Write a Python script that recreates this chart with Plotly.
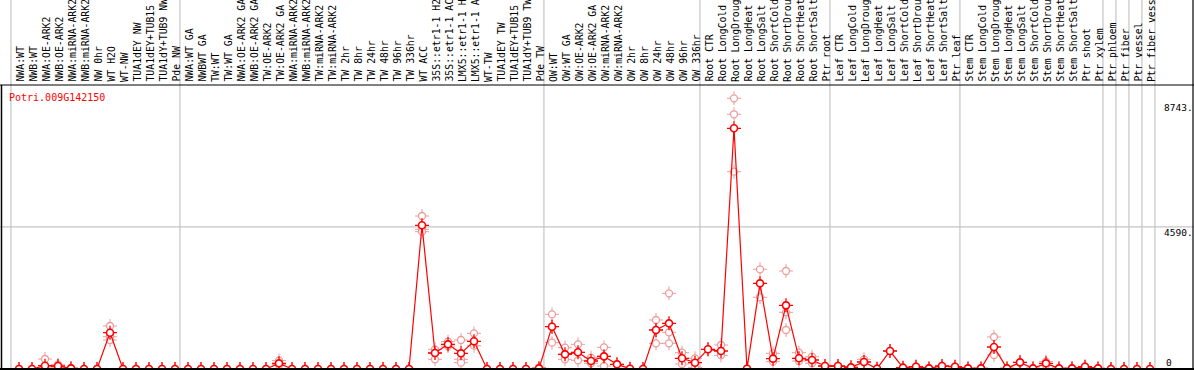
import plotly.graph_objects as go

labels = [
    "NWA:WT", "NWB:WT", "NWA:OE-ARK2", "NWB:OE-ARK2", "NWA:miRNA-ARK2", "NWB:miRNA-ARK2",
    "NW 0hr", "WT H2O", "WT-NW", "TUA1dEY NW", "TUA1dEY+TUB15", "TUA1dY+TUB9 NW", "Pde NW",
    "NWA:WT GA", "NWBWT GA", "TW:WT", "TW:WT GA", "NWA:OE-ARK2 GA", "NWB:OE-ARK2 GA",
    "TW:OE-ARK2", "TW:OE-ARK2 GA", "NWA:miRNA-ARK2", "NWB:miRNA-ARK2", "TW:miRNA-ARK2",
    "TW:miRNA-ARK2", "TW 2hr", "TW 8hr", "TW 24hr", "TW 48hr", "TW 96hr", "TW 336hr",
    "WT ACC", "35S::etr1-1 H2O", "35S::etr1-1 ACC", "LMX5::etr1-1 H2O", "LMX5::etr1-1 ACC",
    "WT-TW", "TUA1dEY TW", "TUA1dEY+TUB15", "TUA1dY+TUB9 TW", "Pde TW",
    "OW:WT", "OW:WT GA", "OW:OE-ARK2", "OW:OE-ARK2 GA", "OW:miRNA-ARK2", "OW:miRNA-ARK2",
    "OW 2hr", "OW 8hr", "OW 24hr", "OW 48hr", "OW 96hr", "OW 336hr",
    "Root CTR", "Root LongCold", "Root LongDrought", "Root LongHeat", "Root LongSalt",
    "Root ShortCold", "Root ShortDrought", "Root ShortHeat", "Root ShortSalt", "Ptr root",
    "Leaf CTR", "Leaf LongCold", "Leaf LongDrought", "Leaf LongHeat", "Leaf LongSalt",
    "Leaf ShortCold", "Leaf ShortDrought", "Leaf ShortHeat", "Leaf ShortSalt", "Ptr leaf",
    "Stem CTR", "Stem LongCold", "Stem LongDrought", "Stem LongHeat", "Stem LongSalt",
    "Stem ShortCold", "Stem ShortDrought", "Stem ShortHeat", "Stem ShortSalt", "Ptr shoot",
    "Ptr xylem", "Ptr phloem", "Ptr fiber", "Ptr vessel", "Ptr fiber vessel",
]

means = [
    0, 0, 107, 97, 20, 0, 0, 1173, 0, 0, 0, 0, 0,
    0, 0, 0, 0, 0, 0, 0, 183, 0, 0, 0, 0, 0, 0, 0, 0, 0, 0,
    4641, 517, 797, 506, 894, 0, 0, 0, 0, 20,
    1367, 474, 539, 258, 409, 151, 10, 0, 1260, 1475, 345, 204,
    636, 581, 7774, 10, 2767, 334, 2056, 345, 291, 97,
    97, 54, 226, 10, 581, 43, 75, 20, 97, 75,
    20, 20, 711, 20, 215, 20, 183, 20, 20, 75, 20,
    0, 0, 0, 0,
]

reps = [
    [0], [0], [323, 30, 0], [140, 80, 60], [30], [0], [0], [1389, 1043, 937], [0], [0], [0], [0], [0],
    [0], [0], [0], [0], [0], [0], [0], [270, 150, 130], [0], [0], [0], [0], [0], [0], [0], [0], [0], [0],
    [4942, 4512, 4435], [636, 313, 517], [883, 797, 740], [937, 313, 204], [1152, 754, 894],
    [0], [0], [0], [0], [40],
    [1766, 851, 1367], [689, 313, 474], [797, 280, 539], [366, 183, 258], [700, 97, 409],
    [151], [10], [0], [1583, 829, 1260], [2444, 1185, 829], [527, 161], [345, 54],
    [636], [775, 441], [8743, 8227, 6374], [10], [3220, 2316], [506, 237],
    [3165, 1830, 1260], [527, 258], [398, 183], [97],
    [97], [54], [313, 226], [10], [581], [43], [75], [20], [97], [75],
    [20], [20], [1034, 452], [20], [215], [20], [240, 120], [20], [20], [75], [20],
    [0], [0], [0], [0],
]

group_starts = [0, 13, 41, 53, 63, 73, 84, 85, 86, 87, 88]
gene = "Potri.009G142150"
ytick_vals = [8743, 4590, 0]
ytick_text = ["8743.", "4590.", "0"]

W, H = 1194, 370
X0, DX = 19, 13
ZERO_PX, PX_PER = 369, 32.3
HEADER_PX = 85
FONT = "DejaVu Sans Mono"
REP_COLOR = "#ec9c9c"
RED = "#ff0000"

xs = list(range(len(labels)))
rx, ry = [], []
for i, r in enumerate(reps):
    for v in r:
        rx.append(i)
        ry.append(v)

fig = go.Figure()
# replicates
fig.add_trace(go.Scatter(x=rx, y=ry, mode="markers", hoverinfo="skip",
                         marker=dict(symbol="cross-thin-open", size=10, color=REP_COLOR,
                                     line=dict(color=REP_COLOR, width=1))))
fig.add_trace(go.Scatter(x=rx, y=ry, mode="markers", hoverinfo="skip",
                         marker=dict(symbol="circle", size=7, color="white", line=dict(color=REP_COLOR, width=1.3))))
# mean line
fig.add_trace(go.Scatter(x=xs, y=means, mode="lines", line=dict(color=RED, width=1.2)))
fig.add_trace(go.Scatter(x=xs, y=means, mode="markers",
                         marker=dict(symbol="cross-thin-open", size=10, color=RED,
                                     line=dict(color=RED, width=1.3))))
fig.add_trace(go.Scatter(x=xs, y=means, mode="markers",
                         marker=dict(symbol="circle", size=7, color="white", line=dict(color=RED, width=1.6))))

shapes = []
for g in group_starts:
    xv = g - 0.62
    shapes.append(dict(type="line", xref="x", yref="paper", x0=xv, x1=xv, y0=0, y1=1,
                       line=dict(color="#c4c4c4", width=1.2), layer="below"))
shapes.append(dict(type="line", xref="paper", yref="y", x0=0, x1=1, y0=4590, y1=4590,
                   line=dict(color="#c4c4c4", width=1.2), layer="below"))
yh = (H - HEADER_PX) / H
shapes.append(dict(type="line", xref="paper", yref="paper", x0=0, x1=1, y0=yh, y1=yh,
                   line=dict(color="black", width=1.2)))
shapes.append(dict(type="line", xref="paper", yref="paper", x0=1.5 / W, x1=1.5 / W, y0=0, y1=yh,
                   line=dict(color="black", width=1.5)))
shapes.append(dict(type="line", xref="paper", yref="paper", x0=1193 / W, x1=1193 / W, y0=0, y1=1,
                   line=dict(color="black", width=1.2)))
shapes.append(dict(type="line", xref="paper", yref="y", x0=0, x1=1, y0=0, y1=0,
                   line=dict(color="black", width=2)))

annotations = []
for i, lab in enumerate(labels):
    annotations.append(dict(x=i + 0.08, y=(H - 83) / H, xref="x", yref="paper", text=lab,
                            textangle=-90, showarrow=False, xanchor="center", yanchor="bottom",
                            borderpad=0, font=dict(family=FONT, size=9.8, color="black")))
annotations.append(dict(x=8 / W, y=(H - 97) / H, xref="paper", yref="paper", text=gene,
                        showarrow=False, xanchor="left", yanchor="middle", borderpad=0,
                        font=dict(family=FONT, size=10, color=RED)))
ylab_px = [107, 232, 362]
ylab_x = [1163, 1163, 1165]
for t, py, px in zip(ytick_text, ylab_px, ylab_x):
    annotations.append(dict(x=px / W, y=(H - py) / H, xref="paper", yref="paper", text=t,
                            showarrow=False, xanchor="left", yanchor="middle", borderpad=0,
                            font=dict(family=FONT, size=9.5, color="black")))

fig.update_layout(
    width=W, height=H, margin=dict(l=0, r=0, t=0, b=0),
    paper_bgcolor="white", plot_bgcolor="white", showlegend=False,
    xaxis=dict(range=[-X0 / DX, (W - X0) / DX], visible=False, fixedrange=True),
    yaxis=dict(range=[-(H - ZERO_PX) * PX_PER, ZERO_PX * PX_PER], visible=False, fixedrange=True),
    shapes=shapes, annotations=annotations,
)
fig.write_html("out.html", config={"displayModeBar": False},
               post_script="document.body.style.margin='0';document.body.style.padding='0';"
                           "document.body.style.overflow='hidden';")
